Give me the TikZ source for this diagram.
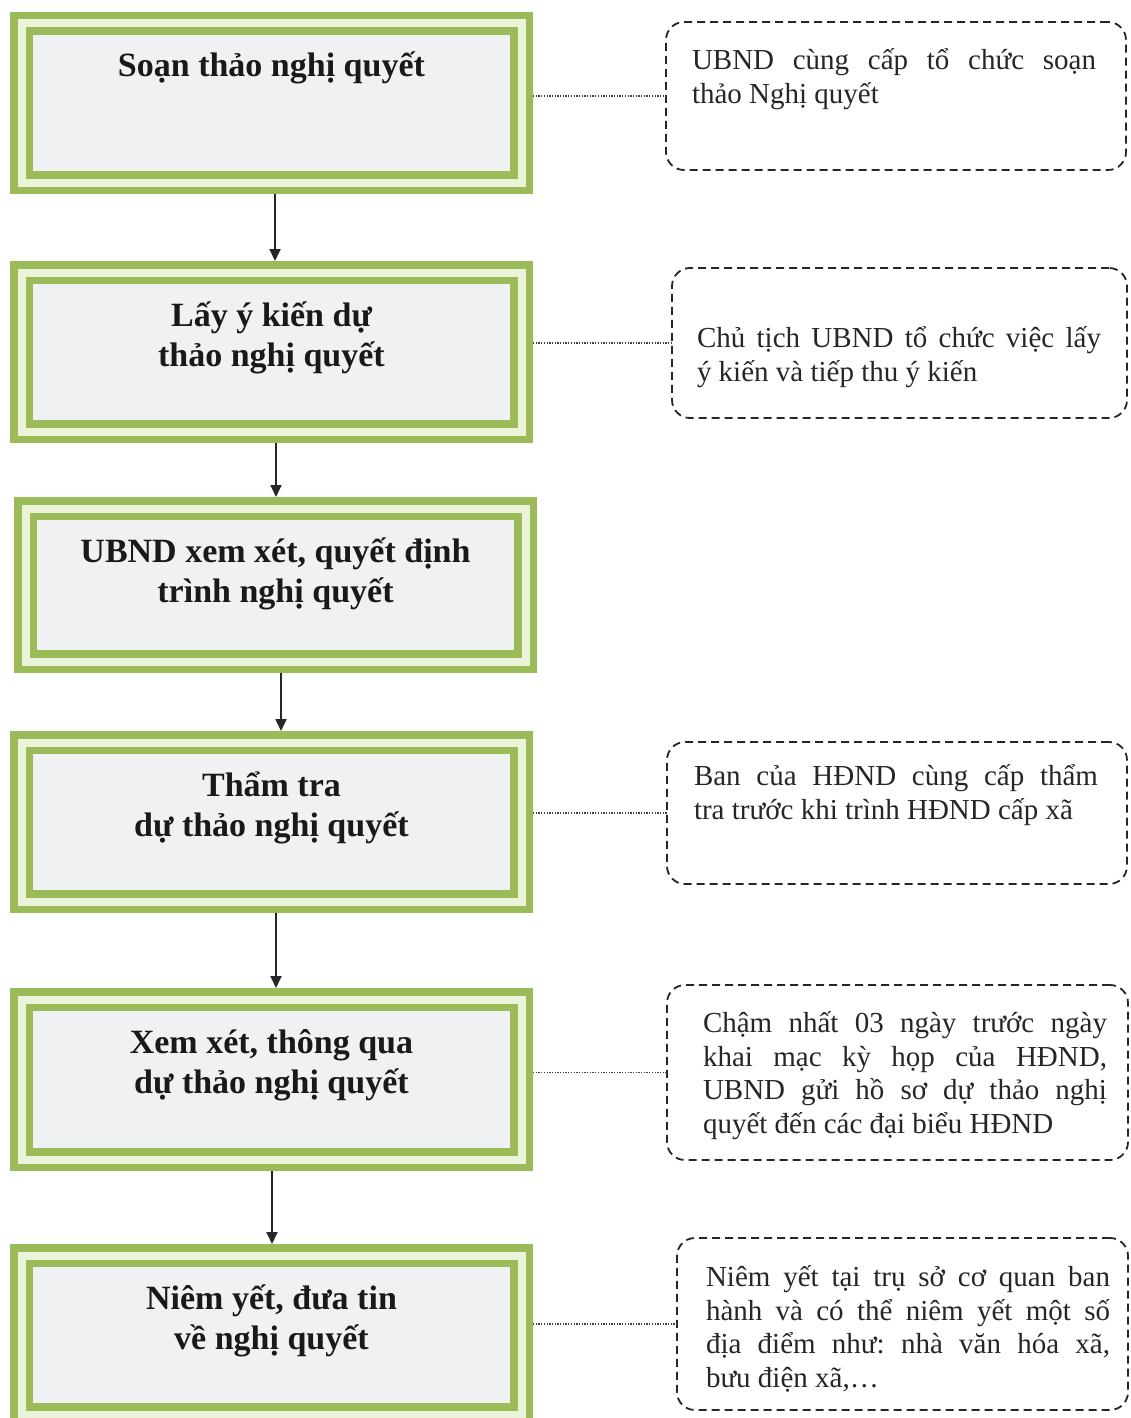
\documentclass[tikz,border=0pt]{standalone}
\usepackage{fontspec}
\setmainfont{Liberation Serif}
\usetikzlibrary{arrows.meta}
\frenchspacing
\definecolor{boxgreen}{HTML}{9BBB59}
\definecolor{gapgreen}{HTML}{EBF3D8}
\definecolor{stagefill}{HTML}{F0F1F2}
\newcommand\stxt[2]{\parbox[c][#1pt][t]{500pt}{\centering\rule{0pt}{53.5pt}#2}}
\newcommand\ntxt[5]{\parbox[c][#2pt][t]{#1pt}{\hspace*{#3pt}\parbox[t]{404pt}{\rule{0pt}{#4pt}#5}}}
\newcommand\jl[1]{\makebox[404pt][s]{#1}}
\tikzset{
  stagebox/.style={draw=boxgreen, line width=7.5pt, double=gapgreen, double distance=8pt,
    fill=stagefill, inner sep=0pt, outer sep=11.5pt,
    font=\fontsize{34}{40}\selectfont\bfseries, text=black!90},
  notebox/.style={draw=black!85, line width=1.8pt, dash pattern=on 8pt off 5pt,
    rounded corners=18pt, inner sep=0pt, outer sep=0pt, anchor=north west,
    font=\fontsize{29}{33.5}\selectfont, text=black!85},
  flow/.style={draw=black!85, line width=1.8pt, -{Triangle[length=12pt,width=11pt]}},
  dotline/.style={draw=black!75, line width=1.5pt, dash pattern=on 1.3pt off 1.4pt},
}
\begin{document}
\begin{tikzpicture}[x=1pt,y=-1pt]
\fill[white] (0,0) rectangle (1130,1418);
\clip (0,0) rectangle (1130,1418);

% stages
\node[stagebox] (b1) at (271.5,103)  {\stxt{159}{Soạn thảo nghị quyết}};
\node[stagebox] (b2) at (271.5,352)  {\stxt{159}{Lấy ý kiến dự\\thảo nghị quyết}};
\node[stagebox] (b3) at (275.5,585)  {\stxt{153}{UBND xem xét, quyết định\\trình nghị quyết}};
\node[stagebox] (b4) at (271.5,822)  {\stxt{159}{Thẩm tra\\dự thảo nghị quyết}};
\node[stagebox] (b5) at (271.5,1079.5) {\stxt{160}{Xem xét, thông qua\\dự thảo nghị quyết}};
\node[stagebox] (b6) at (271.5,1335) {\stxt{159}{Niêm yết, đưa tin\\về nghị quyết}};

% notes
\node[notebox] (r1) at (666,22)   {\ntxt{460}{148}{26}{48}{\jl{UBND cùng cấp tổ chức soạn}\\thảo Nghị quyết}};
\node[notebox] (r2) at (672,268)  {\ntxt{455}{150}{25}{79.5}{\jl{Chủ tịch UBND tổ chức việc lấy}\\ý kiến và tiếp thu ý kiến}};
\node[notebox] (r4) at (667,742)  {\ntxt{460}{142}{27}{43.5}{\jl{Ban của HĐND cùng cấp thẩm}\\tra trước khi trình HĐND cấp xã}};
\node[notebox] (r5) at (667,985)  {\ntxt{461}{175}{36}{47.5}{\jl{Chậm nhất 03 ngày trước ngày}\\\jl{khai mạc kỳ họp của HĐND,}\\\jl{UBND gửi hồ sơ dự thảo nghị}\\quyết đến các đại biểu HĐND}};
\node[notebox] (r6) at (677,1238) {\ntxt{451}{172}{29}{48.5}{\jl{Niêm yết tại trụ sở cơ quan ban}\\\jl{hành và có thể niêm yết một số}\\\jl{địa điểm như: nhà văn hóa xã,}\\bưu điện xã,…}};

% flow arrows
\draw[flow] ([xshift=3.5pt]b1.south) -- ([xshift=3.5pt]b1.south |- b2.north);
\draw[flow] ([xshift=4.5pt]b2.south) -- ([xshift=4.5pt]b2.south |- b3.north);
\draw[flow] ([xshift=5.5pt]b3.south) -- ([xshift=5.5pt]b3.south |- b4.north);
\draw[flow] ([xshift=4.5pt]b4.south) -- ([xshift=4.5pt]b4.south |- b5.north);
\draw[flow] ([xshift=0.5pt]b5.south) -- ([xshift=0.5pt]b5.south |- b6.north);

% dotted links
\draw[dotline] (b1.east |- r1.west) -- (r1.west);
\draw[dotline] (b2.east |- r2.west) -- (r2.west);
\draw[dotline] (b4.east |- r4.west) -- (r4.west);
\draw[dotline] (b5.east |- r5.west) -- (r5.west);
\draw[dotline] (b6.east |- r6.west) -- (r6.west);
\end{tikzpicture}
\end{document}
